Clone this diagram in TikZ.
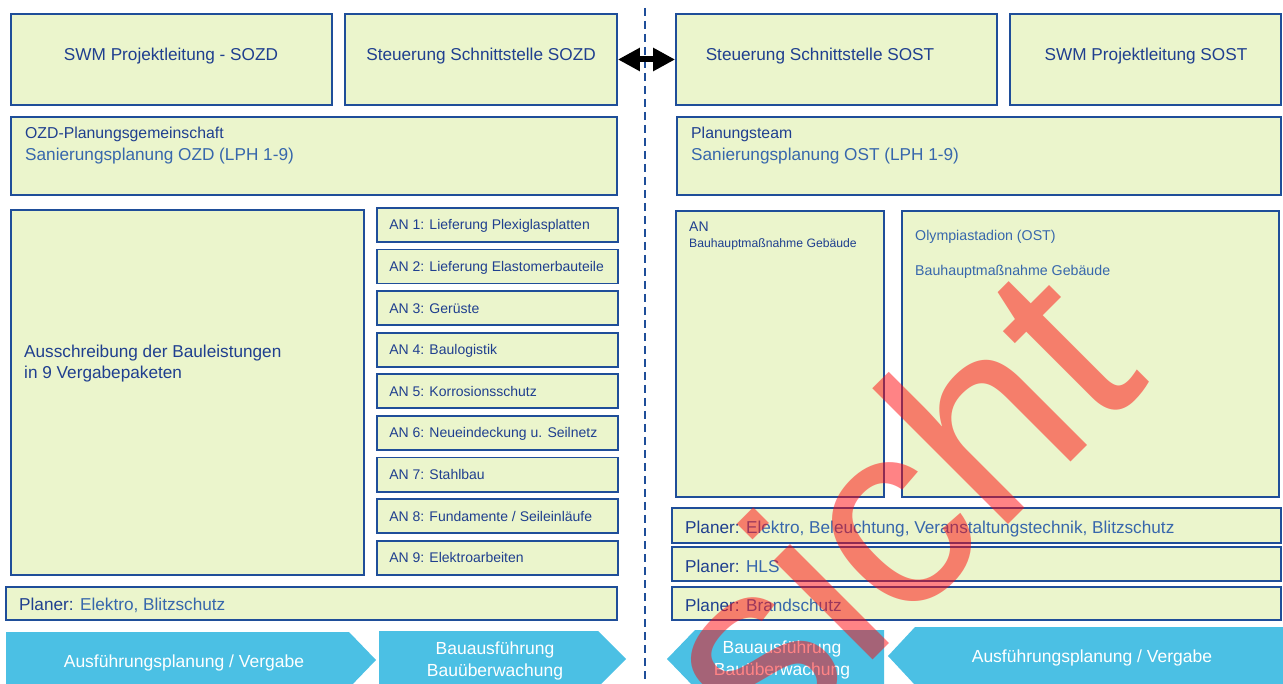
\documentclass[tikz,border=0pt]{standalone}
\usepackage{fontspec}
\setmainfont{Liberation Sans}
\usetikzlibrary{arrows.meta,fit}
\definecolor{boxBg}{HTML}{EBF5CC}
\definecolor{boxBorder}{HTML}{1F4E99}
\definecolor{textDark}{HTML}{1F3F8F}
\definecolor{textLight}{HTML}{3767AC}
\definecolor{phaseBg}{HTML}{4BC0E4}
\definecolor{stampRed}{RGB}{255,8,12}
\tikzset{
  panel/.style={draw=boxBorder, fill=boxBg, line width=1.8pt, inner sep=0pt},
  title/.style={font=\fontsize{17.2}{20}\selectfont, text=textDark, inner sep=0pt, anchor=base},
  head/.style={font=\fontsize{15.8}{19}\selectfont, text=textDark, inner sep=0pt, anchor=base west},
  sub/.style={font=\fontsize{17.2}{20}\selectfont, text=textLight, inner sep=0pt, anchor=base west},
  item/.style={font=\fontsize{14}{17}\selectfont, text=textDark, inner sep=0pt, text height=10pt, text depth=0pt, anchor=west},
  phase/.style={font=\fontsize{17.5}{21}\selectfont, text=white, inner sep=0pt, anchor=base}
}
\newcommand{\phasebox}[5]{
  \pgfmathsetmacro{\flatx}{#1}
  \pgfmathsetmacro{\bodyx}{#2}
  \pgfmathsetmacro{\topy}{#3}
  \pgfmathsetmacro{\boty}{#4}
  \pgfmathsetmacro{\tipx}{#2 + #5}
  \pgfmathsetmacro{\midy}{(#3 + #4) / 2}

  \fill[phaseBg] (\flatx, \topy) -- (\bodyx, \topy) -- (\tipx, \midy) -- (\bodyx, \boty) -- (\flatx, \boty) -- cycle;
}
\begin{document}
\begin{tikzpicture}[x=1pt, y=-1pt]
   \useasboundingbox (0,0) rectangle (1283,684);

   \node[panel, fit={(11,14) (332,105)}] (swmozd) {};
   \node[panel, fit={(345,14) (617,105)}] (steuozd) {};
   \node[panel, fit={(676,14) (997,105)}] (steuost) {};
   \node[panel, fit={(1010,14) (1281,105)}] (swmost) {};

   \node[title] (swmozdtxt) at (171,61) {SWM Projektleitung - SOZD};
   \node[title] (steuozdtxt) at (481,61) {Steuerung Schnittstelle SOZD};
   \node[title] (steuosttxt) at (820,61) {Steuerung Schnittstelle SOST};
   \node[title] (swmosttxt) at (1146,61) {SWM Projektleitung SOST};

   \node[panel, fit={(11,117) (617,195)}] (planozd) {};
   \node[head] (planozdtop) at (25,139) {OZD-Planungsgemeinschaft};
   \node[sub] (planozdsub) at (25,161) {Sanierungsplanung OZD (LPH 1-9)};

   \node[panel, fit={(677,117) (1281,195)}] (planost) {};
   \node[head] (planosttop) at (691,139) {Planungsteam};
   \node[sub] (planostsub) at (691,161) {Sanierungsplanung OST (LPH 1-9)};

   \node[panel, fit={(11,210) (364,575)}] (ausschr) {};
   \node[sub, text=textDark] (ausschrone) at (24,358) {Ausschreibung der Bauleistungen};
   \node[sub, text=textDark] (ausschrtwo) at (24,379) {in 9 Vergabepaketen};

   \foreach \n/\txt in {1/{Lieferung Plexiglasplatten}, 2/{Lieferung Elastomerbauteile}, 3/Gerüste, 4/Baulogistik, 5/Korrosionsschutz, 6/{Neueindeckung u. Seilnetz}, 7/Stahlbau, 8/{Fundamente / Seileinläufe}, 9/Elektroarbeiten}
   {
     \pgfmathsetmacro{\antop}{208 + (\n - 1) * 41.6}
     \node[panel, fit={(377,\antop) (618,\antop+34)}] (an\n) {};
     \node[item] (antxt\n) at ([xshift=13pt]an\n.west) {AN \n: \txt};
   }

   \node[panel, fit={(6,587) (617,620)}] (planerozd) {};
   \node[sub] (planerozdtxt) at (19,610) {{\color{textDark}Planer:} Elektro, Blitzschutz};

   \node[panel, fit={(676,211) (884,497)}] (anost) {};
   \node[head, font=\fontsize{14}{17}\selectfont] (anosttop) at (689,232) {AN};
   \node[head, font=\fontsize{12.2}{15}\selectfont] (anostsub) at (689,248) {Bauhauptmaßnahme Gebäude};

   \node[panel, fit={(902,211) (1279,497)}] (olymp) {};
   \node[sub, font=\fontsize{14.2}{17}\selectfont] (olymptop) at (915,241) {Olympiastadion (OST)};
   \node[sub, font=\fontsize{14.2}{17}\selectfont] (olympsub) at (915,276) {Bauhauptmaßnahme Gebäude};

   \node[panel, fit={(672,508) (1281,543)}] (planerel) {};
   \node[panel, fit={(672,547) (1281,581)}] (planerhls) {};
   \node[panel, fit={(672,587) (1281,620)}] (planerbrand) {};
   \node[sub] (planereltxt) at (685,533) {{\color{textDark}Planer:} Elektro, Beleuchtung, Veranstaltungstechnik, Blitzschutz};
   \node[sub] (planerhlstxt) at (685,572) {{\color{textDark}Planer:} HLS};
   \node[sub] (planerbrandtxt) at (685,611) {{\color{textDark}Planer:} Brandschutz};

   \phasebox{6}{349}{632}{688}{27}
   \phasebox{379}{598}{631}{687}{28}
   \phasebox{884}{695}{630}{688}{-28}
   \phasebox{1283}{915}{627}{685}{-27}

   \node[phase] (ozdplan) at (184,667) {Ausführungsplanung / Vergabe};
   \node[phase] (ozdbauone) at (495,654) {Bauausführung};
   \node[phase] (ozdbautwo) at (495,676) {Bauüberwachung};
   \node[phase] (ostbauone) at (782,653) {Bauausführung};
   \node[phase] (ostbautwo) at (782,675) {Bauüberwachung};
   \node[phase] (ostplan) at (1092,662) {Ausführungsplanung / Vergabe};

   \coordinate (divtop) at (645,8);
   \coordinate (divbot) at (645,684);
   \draw[boxBorder, line width=2pt, dash pattern=on 8pt off 5pt] (divtop) -- (divbot);

   \draw[line width=6pt, {Triangle[length=22pt, width=22pt]}-{Triangle[length=22pt, width=22pt]}] (steuozd.east) -- (steuost.west);

   \node[font=\fontsize{265}{265}\selectfont, text=stampRed, text opacity=0.5, inner sep=0pt, rotate=45, anchor=base] (stamp) at (959,574) {sicht};
\end{tikzpicture}
\end{document}
